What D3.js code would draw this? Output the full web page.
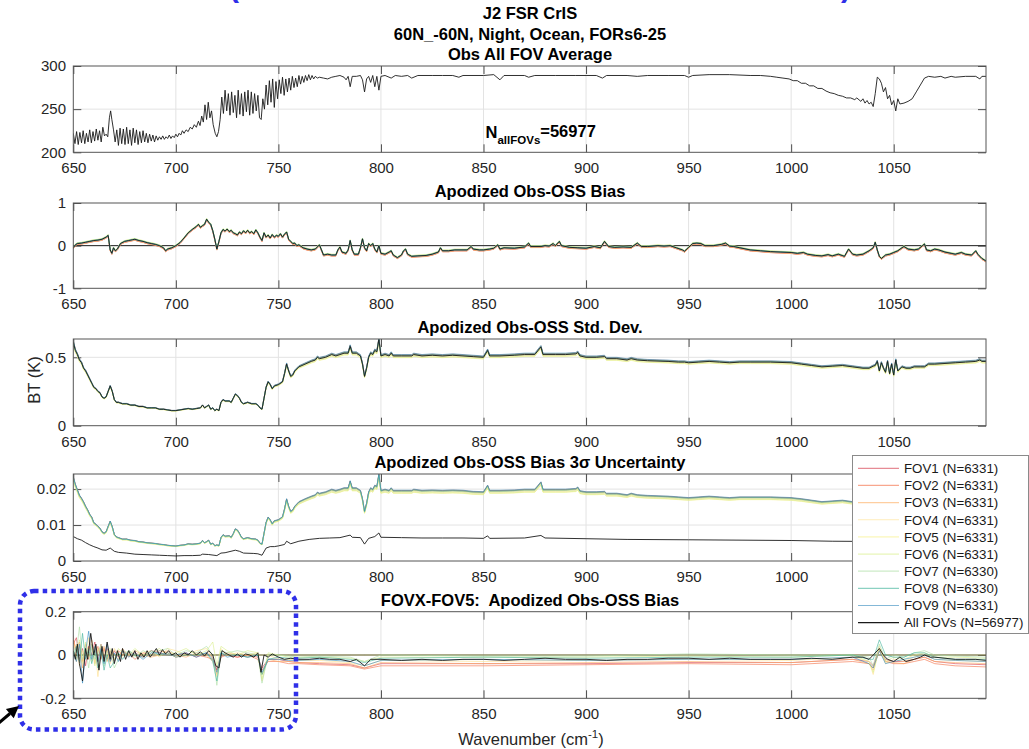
<!DOCTYPE html>
<html>
<head>
<meta charset="utf-8">
<script src="https://cdn.jsdelivr.net/npm/d3@7"></script>
<style>
  body { margin: 0; background: #fff; }
  svg { font-family: "Liberation Sans", Arial, Helvetica, sans-serif; }
  .tick text { font-size: 15px; fill: #262626; }
  .title { font-size: 16.5px; font-weight: bold; text-anchor: middle; fill: #000; white-space: pre; }
</style>
</head>
<body>
<svg id="chart" width="1029" height="749"></svg>
<script>

// ---- data ----
var xTicks = [650, 700, 750, 800, 850, 900, 950, 1000, 1050];

var fovNames = ["FOV1", "FOV2", "FOV3", "FOV4", "FOV5", "FOV6", "FOV7", "FOV8", "FOV9"];
var fovCounts = [6331, 6331, 6331, 6331, 6331, 6331, 6330, 6330, 6331];
var allCount = 56977;

// Obs all FOV average brightness temperature (K)
var obsBT = [
  [650,222],[650.8,210],[651.6,224],[652.4,209],[653.2,223],[654,211],[654.8,225],[655.6,210],[656.4,222],[657.2,212],
  [658,226],[658.8,211],[659.6,224],[660.4,213],[661.2,227],[662,214],[662.8,225],[663.6,212],[664.4,229],[665.2,219],
  [666,221],[666.8,218],[667.6,240],[668.2,248],[668.8,238],[669.6,226],[670.4,212],[671.2,226],[672,208],[672.8,228],
  [673.6,210],[674.4,227],[675.2,209],[676,229],[676.8,210],[677.6,226],[678.4,208],[679.2,228],[680,211],[680.8,226],
  [681.6,209],[682.4,224],[683.2,211],[684,225],[684.8,212],[685.6,222],[686.4,211],[687.2,221],[688,213],[688.8,220],
  [689.6,212],[690.4,219],[691.2,214],[692,218],[692.8,215],[693.6,219],[694.4,215],[695.2,218],[696,216],[696.8,220],
  [697.6,216],[698.4,219],[699.2,217],[700,221],[700.8,218],[701.6,222],[702.4,220],[703.2,225],[704,222],[705,226],
  [706,224],[707,229],[708,227],[709,232],[710,229],[711,236],[711.8,231],[712.6,242],[713.4,235],[714.2,255],
  [715,238],[715.8,258],[716.6,240],[717.4,248],[718.2,232],[719.2,222],[720,218],[720.8,224],[721.6,238],[722.4,264],
  [723.2,245],[724,272],[724.8,248],[725.6,268],[726.4,243],[727.2,270],[728,246],[728.8,266],[729.6,240],[730.4,272],
  [731.2,244],[732,268],[732.8,242],[733.6,270],[734.4,247],[735.2,272],[736,243],[736.8,270],[737.6,245],[738.4,268],
  [739.2,248],[740,266],[740.8,240],[741.6,238],[742.4,262],[743.2,250],[744,278],[744.8,255],[745.6,283],[746.4,258],
  [747.2,285],[748,252],[748.8,282],[749.6,262],[750.4,284],[751.2,268],[752,287],[752.8,266],[753.6,285],[754.4,270],
  [755.2,286],[756,272],[756.8,288],[757.6,275],[758.4,286],[759.2,276],[760,289],[760.8,279],[761.6,288],[762.4,281],
  [763.2,289],[764,283],[764.8,290],[765.6,284],[766.4,289],[767.2,285],[768,288],[769,286],[770,287],[772,286],
  [774,285],[776,287],[778,288],[780,289],[782,287],[783,284],[784,288],[785,276],[786,288],[788,288],
  [790,289],[791,284],[792,270],[793,285],[794,288],[795,281],[796,289],[797,276],[798,288],[799,272],
  [800,288],[802,289],[805,286],[807,289],[810,288],[813,289],[815,286],[818,289],[825,289],[830,289],
  [835,289],[838,287],[840,289],[850,289],[855,290],[858,284],[860,289],[870,289],[872,287],[875,289],
  [885,289],[895,289],[900,289],[905,289],[908,286],[910,289],[920,289],[925,288],[930,289],[940,289],
  [948,289],[950,287],[952,289],[960,290],[970,290],[980,289],[985,289],[990,288],[993,287],[996,286],
  [999,285],[1001,283],[1003,283],[1005,280],[1007,280],[1009,277],[1011,277],[1013,274],[1015,274],[1017,271],
  [1019,269],[1021,268],[1023,266],[1025,265],[1027,263],[1029,263],[1031,261],[1032,263],[1034,259],[1035,262],
  [1036,257],[1037,260],[1038,256],[1039,258],[1040,253],[1041,268],[1042,287],[1043,285],[1044,280],[1045,270],
  [1046,275],[1047,262],[1048,266],[1049,255],[1050,260],[1051,248],[1052,262],[1053,256],[1055,257],[1057,259],
  [1059,262],[1061,270],[1063,278],[1065,286],[1067,288],[1070,287],[1073,288],[1075,286],[1078,288],[1080,287],
  [1085,288],[1090,288],[1092,285],[1093,288],[1095,288]
];

// Apodized Obs-OSS bias, all FOVs (K)
var biasAll = [
  [650,-0.05],[651,0.02],[652,0.05],[654,0.06],[656,0.08],[658,0.1],[660,0.12],[662,0.13],[664,0.15],[666,0.2],
  [667,0.24],[668,-0.1],[668.8,-0.18],[669.6,-0.05],[670.5,-0.12],[671.5,-0.08],[673,0.05],[675,0.1],[677,0.12],[679,0.14],
  [680,0.15],[682,0.12],[684,0.1],[686,0.07],[688,0.05],[690,0.03],[692,0.0],[694,-0.05],[695,-0.12],[696,-0.08],
  [698,-0.05],[700,0.0],[702,0.07],[704,0.18],[706,0.3],[708,0.38],[710,0.45],[711,0.5],[712,0.43],[713,0.47],
  [714,0.5],[715,0.62],[716,0.55],[717,0.5],[718,0.35],[719,0.15],[720,-0.08],[721,0.1],[722,0.3],[723,0.38],
  [724,0.34],[725,0.39],[726,0.33],[727,0.36],[728,0.3],[729,0.28],[730,0.25],[731,0.32],[732,0.28],[733,0.35],
  [734,0.3],[735,0.36],[736,0.3],[737,0.33],[738,0.28],[739,0.37],[740,0.3],[741,0.2],[742,0.12],[743,0.3],
  [744,0.2],[745,0.25],[746,0.18],[747,0.26],[748,0.2],[749,0.24],[750,0.22],[751,0.28],[752,0.2],[753,0.27],
  [754,0.32],[755,0.15],[756,0.1],[757,0.05],[758,0.06],[759,0.0],[760,0.02],[762,-0.05],[764,-0.08],[766,-0.1],
  [768,-0.08],[770,0.02],[771,-0.1],[772,-0.22],[774,-0.2],[776,-0.22],[778,-0.22],[779,-0.1],[780,-0.03],[781,-0.15],
  [783,-0.18],[784,-0.1],[785,0.12],[786,-0.1],[787,-0.2],[789,-0.2],[790,-0.05],[791,0.16],[792,-0.05],[793,-0.12],
  [794,0.05],[795,0.0],[796,0.05],[797,-0.08],[798,-0.15],[799,0.0],[800,-0.18],[802,-0.2],[804,-0.15],[805,-0.12],
  [806,-0.22],[808,-0.28],[810,-0.22],[811,-0.12],[812,-0.08],[813,-0.2],[815,-0.25],[818,-0.24],[822,-0.23],[825,-0.2],
  [828,-0.15],[829,-0.05],[830,-0.12],[833,-0.12],[836,-0.1],[840,-0.1],[842,-0.1],[844,-0.02],[845,-0.08],[848,-0.1],
  [850,-0.1],[853,-0.08],[855,-0.06],[857,0.02],[858,-0.08],[860,-0.05],[865,-0.06],[870,-0.03],[872,0.06],[873,-0.02],
  [878,-0.02],[880,0.0],[882,-0.01],[884,0.05],[885,0.0],[887,0.1],[888,0.0],[892,-0.04],[896,-0.05],[900,-0.06],
  [904,-0.02],[907,-0.05],[909,0.1],[911,-0.02],[914,-0.04],[918,-0.03],[922,-0.04],[925,0.06],[927,-0.02],[930,-0.02],
  [935,0.0],[938,-0.01],[941,0.0],[944,-0.05],[947,-0.1],[948,-0.13],[950,-0.04],[952,0.05],[954,0.06],[956,0.05],
  [958,0.0],[962,0.0],[966,0.03],[968,0.06],[970,-0.01],[972,-0.02],[975,-0.05],[978,-0.08],[980,-0.1],[985,-0.12],
  [990,-0.14],[995,-0.15],[1000,-0.16],[1003,-0.18],[1006,-0.16],[1008,-0.2],[1012,-0.23],[1015,-0.24],[1018,-0.21],[1020,-0.24],
  [1023,-0.2],[1026,-0.25],[1028,-0.08],[1030,-0.2],[1032,-0.22],[1035,-0.2],[1038,-0.12],[1040,-0.05],[1041,0.08],[1042,-0.1],
  [1043,-0.25],[1044,-0.3],[1046,-0.22],[1048,-0.2],[1050,-0.16],[1052,-0.12],[1054,-0.05],[1055,-0.02],[1057,-0.08],[1060,-0.1],
  [1062,-0.08],[1064,0.0],[1065,0.04],[1066,-0.1],[1068,-0.12],[1070,-0.08],[1072,-0.1],[1075,-0.15],[1078,-0.18],[1080,-0.2],
  [1083,-0.16],[1085,-0.2],[1088,-0.22],[1090,-0.12],[1091,-0.2],[1093,-0.3],[1095,-0.36]
];
var fovBiasShift = [-0.02, -0.025, -0.02, -0.01, 0.02, 0.01, 0.015, 0.005, -0.005];

// Apodized Obs-OSS standard deviation, all FOVs (K)
var stdAll = [
  [650,0.61],[651,0.55],[652,0.52],[653,0.48],[654,0.46],[655,0.42],[656,0.4],[657,0.37],[658,0.34],[659,0.31],
  [660,0.28],[661,0.27],[662,0.25],[663,0.24],[664,0.21],[665,0.2],[666,0.21],[667,0.25],[668,0.29],[669,0.25],
  [670,0.19],[671,0.17],[672,0.17],[674,0.16],[676,0.16],[678,0.15],[680,0.15],[682,0.14],[684,0.14],[686,0.13],
  [688,0.13],[690,0.13],[692,0.12],[694,0.12],[696,0.115],[698,0.11],[700,0.11],[702,0.115],[704,0.12],[706,0.125],
  [708,0.12],[710,0.125],[712,0.13],[713,0.15],[714,0.13],[715,0.14],[716,0.15],[717,0.12],[718,0.13],[719,0.11],
  [720,0.12],[721,0.11],[722,0.17],[723,0.19],[724,0.18],[726,0.18],[727,0.17],[728,0.2],[729,0.23],[730,0.22],
  [731,0.2],[732,0.17],[733,0.16],[735,0.17],[737,0.16],[739,0.16],[740,0.15],[741,0.13],[742,0.12],[743,0.2],
  [744,0.28],[745,0.32],[746,0.3],[747,0.27],[748,0.29],[750,0.3],[752,0.32],[753,0.38],[754,0.45],[755,0.4],
  [756,0.36],[757,0.37],[758,0.4],[760,0.43],[763,0.45],[766,0.47],[768,0.48],[769,0.5],[770,0.49],[773,0.5],
  [776,0.52],[778,0.51],[780,0.52],[782,0.53],[784,0.53],[785,0.58],[786,0.53],[788,0.53],[790,0.51],[791,0.45],
  [792,0.36],[793,0.42],[794,0.5],[795,0.53],[796,0.52],[797,0.55],[798,0.54],[799,0.63],[800,0.51],[802,0.52],
  [804,0.51],[805,0.53],[806,0.51],[810,0.51],[815,0.51],[816,0.52],[820,0.51],[825,0.515],[830,0.51],[835,0.515],
  [840,0.51],[845,0.505],[850,0.5],[852,0.55],[853,0.51],[858,0.51],[865,0.515],[870,0.52],[875,0.52],[878,0.575],
  [879,0.52],[885,0.52],[890,0.52],[895,0.525],[896,0.535],[897,0.51],[900,0.5],[905,0.5],[909,0.505],[910,0.49],
  [915,0.49],[920,0.48],[922,0.49],[925,0.48],[930,0.475],[940,0.47],[945,0.465],[948,0.465],[950,0.46],[955,0.465],
  [960,0.47],[965,0.465],[970,0.46],[975,0.465],[980,0.465],[990,0.465],[1000,0.46],[1005,0.45],[1010,0.44],[1015,0.43],
  [1020,0.435],[1025,0.44],[1030,0.43],[1035,0.42],[1038,0.42],[1040,0.435],[1041,0.44],[1042,0.47],[1043,0.4],[1044,0.46],
  [1045,0.42],[1046,0.39],[1047,0.47],[1048,0.38],[1049,0.45],[1050,0.37],[1051,0.48],[1052,0.4],[1054,0.43],[1056,0.42],
  [1058,0.42],[1060,0.43],[1063,0.43],[1065,0.43],[1067,0.45],[1070,0.45],[1075,0.455],[1080,0.46],[1085,0.465],[1090,0.47],
  [1092,0.48],[1093,0.47],[1095,0.47]
];
var fovStdRatio = [1.01, 1.015, 1.005, 0.99, 0.975, 0.98, 1.0, 1.01, 1.02];

// Bias 3-sigma uncertainty, single FOV (K)
var uncFov = [
  [650,0.023],[651,0.021],[652,0.0195],[653,0.018],[654,0.0172],[655,0.0162],[656,0.015],[657,0.014],[658,0.0128],[659,0.012],
  [660,0.0105],[661,0.0101],[662,0.0095],[663,0.009],[664,0.008],[665,0.0076],[666,0.008],[667,0.0095],[668,0.0109],[669,0.0094],
  [670,0.0073],[671,0.0066],[672,0.0064],[674,0.006],[676,0.006],[678,0.0057],[680,0.0056],[682,0.0053],[684,0.0052],[686,0.005],
  [688,0.0049],[690,0.0048],[692,0.0046],[694,0.0045],[696,0.0043],[698,0.0042],[700,0.0041],[702,0.0043],[704,0.0044],[706,0.0047],
  [708,0.0046],[710,0.0047],[712,0.0049],[713,0.0056],[714,0.005],[715,0.0053],[716,0.0057],[717,0.0046],[718,0.0049],[719,0.0042],
  [720,0.0044],[721,0.0042],[722,0.0064],[723,0.0072],[724,0.0068],[726,0.0069],[727,0.0065],[728,0.0075],[729,0.0088],[730,0.0085],
  [731,0.0076],[732,0.0065],[733,0.0061],[735,0.0064],[737,0.0061],[739,0.006],[740,0.0057],[741,0.0049],[742,0.0046],[743,0.0076],
  [744,0.0106],[745,0.012],[746,0.0113],[747,0.0102],[748,0.011],[750,0.0113],[752,0.0121],[753,0.0143],[754,0.017],[755,0.015],
  [756,0.0136],[757,0.014],[758,0.015],[760,0.0162],[763,0.017],[766,0.0177],[768,0.0181],[769,0.0188],[770,0.0185],[773,0.0189],
  [776,0.0196],[778,0.0193],[780,0.0196],[782,0.02],[784,0.02],[785,0.0219],[786,0.02],[788,0.02],[790,0.0193],[791,0.017],
  [792,0.0136],[793,0.0158],[794,0.0189],[795,0.02],[796,0.0196],[797,0.0207],[798,0.0204],[799,0.0238],[800,0.0193],[802,0.0196],
  [804,0.0193],[805,0.02],[806,0.0193],[810,0.0193],[815,0.0193],[816,0.0196],[820,0.0193],[825,0.0194],[830,0.0193],[835,0.0194],
  [840,0.0193],[845,0.019],[850,0.0189],[852,0.0207],[853,0.0193],[858,0.0193],[865,0.0194],[870,0.0196],[875,0.0196],[878,0.0216],
  [879,0.0196],[885,0.0196],[890,0.0196],[895,0.0198],[896,0.0202],[897,0.0192],[900,0.0189],[905,0.0189],[909,0.019],[910,0.0185],
  [915,0.0185],[920,0.0181],[922,0.0185],[925,0.0181],[930,0.0179],[940,0.0177],[945,0.0175],[950,0.0173],[955,0.0175],[960,0.0177],
  [965,0.0175],[970,0.0173],[975,0.0175],[980,0.0175],[990,0.0175],[1000,0.0173],[1005,0.017],[1010,0.0166],[1015,0.0162],[1020,0.0164],
  [1025,0.0166],[1030,0.0162],[1035,0.0158],[1040,0.0164],[1050,0.016],[1060,0.0163],[1070,0.017],[1080,0.0172],[1095,0.0176]
];
// Bias 3-sigma uncertainty, all FOVs (K)
var uncAll = [
  [650,0.0068],[652,0.0062],[654,0.0058],[656,0.0051],[658,0.0045],[660,0.004],[662,0.0036],[664,0.0031],[666,0.003],[668,0.0036],
  [670,0.0027],[672,0.0024],[676,0.0022],[680,0.0019],[684,0.0018],[688,0.0017],[692,0.0016],[696,0.0015],[700,0.0014],[704,0.0015],
  [708,0.0015],[712,0.0016],[713,0.0019],[716,0.0018],[720,0.0015],[722,0.0022],[724,0.0023],[729,0.0030],[731,0.0027],[733,0.0022],
  [738,0.0021],[740,0.002],[742,0.0016],[744,0.0036],[746,0.0040],[748,0.0040],[750,0.0042],[753,0.0046],[754,0.0055],[756,0.0048],
  [760,0.0055],[765,0.006],[770,0.0063],[775,0.0064],[780,0.0065],[785,0.0072],[786,0.0066],[790,0.0065],[792,0.0047],[794,0.0063],
  [797,0.0068],[799,0.0078],[800,0.0066],[810,0.0065],[820,0.0064],[830,0.0064],[840,0.0064],[850,0.0063],[852,0.007],[853,0.0063],
  [870,0.0064],[878,0.0071],[880,0.0064],[900,0.0062],[920,0.006],[950,0.0059],[1000,0.0057],[1020,0.0055],[1050,0.0054],[1095,0.0058]
];

// FOVX - FOV5 bias, all FOVs (K)
var diffAll = [
  [650,0.02],[651,-0.02],[652,0.05],[653,-0.04],[654.5,-0.12],[656,0.03],[657,-0.02],[658.5,0.10],[660,0.0],[661,0.05],
  [662.5,-0.07],[664,0.04],[665,-0.03],[666.5,0.06],[668,-0.02],[669,0.03],[670,-0.04],[671.5,0.02],[673,-0.03],[674,0.03],
  [675.5,-0.02],[677,0.02],[678.5,-0.01],[680,0.02],[681.5,-0.02],[683,0.01],[684.5,-0.01],[686,0.02],[687.5,-0.01],[689,0.01],
  [690.5,0.03],[692,0.0],[693.5,0.025],[695,0.005],[696.5,0.02],[698,0.0],[700,0.01],[702,-0.01],[704,0.01],[706,0.0],
  [708,0.02],[710,0.0],[712,0.015],[714,-0.005],[716,0.02],[718,0.0],[719.5,-0.05],[721,-0.06],[722.5,0.02],[724,0.01],
  [726,0.0],[728,-0.01],[730,0.005],[732,-0.01],[734,0.005],[736,0.0],[738,-0.01],[740,0.01],[741.5,-0.08],[743,0.0],
  [745,-0.01],[747,0.005],[750,-0.01],[753,-0.02],[756,-0.015],[760,-0.02],[765,-0.02],[770,-0.015],[775,-0.02],[780,-0.02],
  [785,-0.03],[788,-0.02],[792,-0.05],[795,-0.02],[800,-0.02],[810,-0.025],[820,-0.02],[830,-0.025],[840,-0.02],[850,-0.02],
  [860,-0.025],[870,-0.02],[880,-0.015],[890,-0.02],[900,-0.02],[910,-0.025],[920,-0.02],[930,-0.02],[940,-0.015],[950,-0.015],
  [960,-0.02],[970,-0.015],[980,-0.02],[990,-0.02],[1000,-0.02],[1010,-0.015],[1020,-0.02],[1030,-0.01],[1035,-0.01],[1038,-0.02],
  [1040,0.0],[1043,0.03],[1045,0.0],[1047,-0.02],[1050,-0.03],[1053,-0.01],[1056,-0.03],[1060,-0.02],[1063,-0.01],[1065,0.0],
  [1068,-0.01],[1070,-0.01],[1075,-0.015],[1080,-0.02],[1085,-0.02],[1090,-0.02],[1095,-0.025]
];

// FOVX - FOV5 bias per FOV, on a coarse wavenumber grid
var diffWn = [650,651.5,653,654.5,656,657.5,659,660.5,662,663.5,
  665,666.5,668,670,672,674,677,680,684,688,
  692,696,700,705,710,715,718,720,722,725,
  730,735,740,742,745,750,755,760,770,785,
  792,800,850,900,950,1000,1030,1038,1040,1043,
  1046,1050,1055,1060,1065,1070,1080,1095];
var diffFov1 = [0.05,0.08,-0.02,0.03,-0.05,0.04,0.0,0.06,-0.03,0.05,
  -0.02,0.03,-0.03,0.02,-0.01,0.02,0.0,0.01,-0.01,0.02,
  0.01,0.0,0.0,0.01,-0.01,0.01,-0.01,-0.07,0.0,0.0,
  -0.01,0.0,-0.01,-0.06,-0.02,-0.02,-0.03,-0.035,-0.04,-0.045,
  -0.06,-0.04,-0.04,-0.04,-0.035,-0.035,-0.02,-0.03,-0.05,0.03,
  -0.02,-0.03,-0.03,-0.02,-0.01,-0.03,-0.04,-0.045];
var diffFov2 = [0.07,0.02,0.06,-0.03,0.02,-0.02,0.05,0.01,0.04,-0.02,
  0.03,-0.02,0.02,-0.03,0.02,0.0,0.01,-0.02,0.01,0.0,
  0.02,0.01,-0.01,0.0,0.0,-0.01,-0.02,-0.07,-0.01,0.0,
  -0.01,0.0,-0.02,-0.07,-0.03,-0.03,-0.04,-0.04,-0.045,-0.05,
  -0.065,-0.05,-0.05,-0.045,-0.04,-0.045,-0.03,-0.04,-0.06,0.02,
  -0.03,-0.04,-0.04,-0.03,-0.02,-0.04,-0.05,-0.055];
var diffFov3 = [0.09,-0.03,0.04,-0.06,0.05,0.02,0.07,-0.04,0.03,-0.01,
  0.04,-0.03,0.01,0.0,-0.02,0.03,-0.01,0.02,0.0,-0.01,
  0.0,0.02,0.0,-0.01,0.01,0.0,-0.03,-0.09,0.0,0.01,
  0.0,-0.01,0.0,-0.09,-0.02,-0.03,-0.03,-0.035,-0.035,-0.04,
  -0.06,-0.035,-0.04,-0.035,-0.03,-0.035,-0.02,-0.04,-0.07,0.03,
  -0.03,-0.035,-0.04,-0.02,-0.01,-0.03,-0.035,-0.04];
var diffFov4 = [0.03,0.05,-0.05,0.02,0.0,0.08,-0.03,0.04,-0.1,0.03,
  0.0,0.02,-0.04,0.03,0.0,-0.01,0.02,0.0,0.01,0.02,
  -0.01,0.03,0.02,0.0,0.02,0.03,-0.02,-0.1,0.03,0.0,
  0.01,0.0,0.01,-0.12,0.0,-0.02,-0.02,-0.025,-0.025,-0.035,
  -0.05,-0.025,-0.03,-0.025,-0.02,-0.025,-0.01,-0.03,-0.09,0.04,
  -0.04,-0.02,-0.03,-0.01,0.0,-0.02,-0.025,-0.03];
var diffFov5 = diffWn.map(function() { return 0; }); // FOV5 - FOV5
var diffFov6 = [0.02,-0.02,0.07,-0.04,0.06,-0.01,0.03,-0.05,0.02,0.04,
  -0.03,0.02,0.03,-0.02,0.03,0.01,0.0,0.03,0.0,0.01,
  0.03,0.0,0.01,0.03,0.0,0.02,0.06,-0.05,0.04,0.02,
  0.0,0.02,0.01,-0.11,0.01,0.0,-0.01,-0.01,-0.01,-0.015,
  -0.03,-0.01,-0.01,-0.01,-0.005,-0.01,0.0,-0.03,-0.08,0.03,
  -0.03,-0.01,-0.02,0.0,0.01,-0.01,-0.01,-0.015];
var diffFov7 = [0.04,0.01,0.13,-0.02,0.03,-0.06,0.05,-0.02,0.0,0.05,
  -0.05,0.01,0.02,-0.06,-0.02,0.02,0.01,-0.01,0.02,0.0,
  0.02,0.03,0.0,0.02,0.01,0.04,0.0,-0.14,0.02,0.01,
  0.02,0.01,0.0,-0.13,0.0,0.0,-0.005,-0.01,-0.005,-0.01,
  -0.03,0.0,-0.005,-0.005,0.005,0.0,0.0,-0.01,-0.05,0.05,
  -0.02,0.0,-0.01,0.01,0.02,0.0,-0.005,-0.01];
var diffFov8 = [-0.01,0.04,-0.03,0.1,-0.02,0.03,-0.04,0.02,-0.06,0.02,
  -0.07,0.0,-0.06,-0.03,0.01,-0.02,0.02,0.0,-0.01,0.02,
  0.0,0.01,-0.01,0.0,0.0,0.01,-0.03,-0.12,0.01,0.0,
  0.0,-0.01,0.0,-0.09,-0.02,-0.01,-0.015,-0.015,-0.01,-0.02,
  -0.035,-0.015,-0.01,-0.015,-0.01,-0.01,0.0,-0.02,-0.02,0.07,
  0.0,-0.01,-0.01,0.01,0.01,-0.01,-0.02,-0.02];
var diffFov9 = [0.01,-0.03,0.05,-0.13,0.02,0.11,-0.02,0.04,-0.03,0.03,
  -0.04,0.05,-0.03,0.01,-0.03,0.02,-0.01,0.01,-0.02,0.01,
  0.01,0.0,0.0,0.01,-0.01,0.01,-0.02,-0.08,0.01,-0.01,
  0.0,-0.01,0.0,-0.08,-0.02,-0.02,-0.025,-0.025,-0.02,-0.03,
  -0.05,-0.025,-0.02,-0.025,-0.02,-0.02,-0.01,-0.04,-0.06,0.02,
  -0.04,-0.03,-0.02,-0.01,0.0,-0.02,-0.025,-0.03];
var diffFov = [diffFov1, diffFov2, diffFov3, diffFov4, diffFov5, diffFov6, diffFov7, diffFov8, diffFov9];

// ---- styling ----
var fovColors = ["#d53e4f", "#f46d43", "#fdae61", "#fee08b", "#f6f08a", "#d9ef8b", "#abdda4", "#3fb39a", "#3288bd"];
var fovOpacity = 0.6;
var allColor = "#1a1a1a";

var svg = d3.select("#chart");
var x = d3.scaleLinear().domain([650, 1095]).range([73.3, 986]);
var line = function(y) {
  return d3.line().x(function(d) { return x(d[0]); }).y(function(d) { return y(d[1]); });
};

/**
 * Draws one MATLAB style axes box with grid and inside ticks, returns its y scale.
 */
function drawPanel(p, idx) {
  var y = d3.scaleLinear().domain(p.domain).range([p.bottom, p.top]);
  var g = svg.append("g");

  // grid
  g.selectAll(".gx").data(xTicks.slice(1)).enter().append("line")
    .attr("x1", function(d) { return x(d); }).attr("x2", function(d) { return x(d); })
    .attr("y1", p.top).attr("y2", p.bottom)
    .attr("stroke", "#e3e3e3").attr("stroke-width", 1);
  g.selectAll(".gy").data(p.ticks.filter(function(t) { return t !== p.domain[0] && t < p.domain[1]; }))
    .enter().append("line")
    .attr("x1", x.range()[0]).attr("x2", x.range()[1])
    .attr("y1", function(d) { return y(d); }).attr("y2", function(d) { return y(d); })
    .attr("stroke", "#e3e3e3").attr("stroke-width", 1);

  // x labels hidden under the legend are left out
  var xFmt = function(d) { return (p.hideX || []).indexOf(d) >= 0 ? "" : String(d); };

  // axes with inside ticks
  var ax = [
    [d3.axisBottom(x).tickValues(xTicks).tickSize(-8).tickPadding(10.3).tickSizeOuter(0).tickFormat(xFmt), "translate(0," + p.bottom + ")"],
    [d3.axisTop(x).tickValues(xTicks).tickSize(-8).tickFormat("").tickSizeOuter(0), "translate(0," + p.top + ")"],
    [d3.axisLeft(y).tickValues(p.ticks).tickSize(-8).tickPadding(7.3).tickSizeOuter(0).tickFormat(String), "translate(" + x.range()[0] + ",0)"],
    [d3.axisRight(y).tickValues(p.ticks).tickSize(-8).tickFormat("").tickSizeOuter(0), "translate(" + x.range()[1] + ",0)"]
  ];
  ax.forEach(function(a) {
    var ag = g.append("g").attr("transform", a[1]).call(a[0]);
    ag.select(".domain").remove();
    ag.selectAll(".tick line").attr("stroke", "#4d4d4d");
    ag.selectAll(".tick text").filter(function() { return this.textContent === ""; }).remove();
  });

  // title
  svg.append("text").attr("class", "title")
    .attr("x", 530).attr("y", p.top - 6).text(p.title);

  // clip for curves
  svg.append("clipPath").attr("id", "clip" + idx).append("rect")
    .attr("x", x.range()[0]).attr("y", p.top)
    .attr("width", x.range()[1] - x.range()[0]).attr("height", p.bottom - p.top);
  p.plot = svg.append("g").attr("clip-path", "url(#clip" + idx + ")");
  p.y = y;
  p.g = g;
  return p;
}

function drawBox(p) {
  svg.append("rect")
    .attr("x", x.range()[0]).attr("y", p.top)
    .attr("width", x.range()[1] - x.range()[0]).attr("height", p.bottom - p.top)
    .attr("fill", "none").attr("stroke", "#555").attr("stroke-width", 1);
}

function drawCurve(p, data, color, opacity, width) {
  p.plot.append("path").datum(data)
    .attr("d", line(p.y))
    .attr("fill", "none")
    .attr("stroke", color)
    .attr("stroke-opacity", opacity)
    .attr("stroke-width", width)
    .attr("stroke-linejoin", "round");
}

function zeroLine(p) {
  p.plot.append("line")
    .attr("x1", x.range()[0]).attr("x2", x.range()[1])
    .attr("y1", p.y(0)).attr("y2", p.y(0))
    .attr("stroke", "#222").attr("stroke-width", 1);
}

var panels = [
  {top: 66, bottom: 152.3, domain: [200, 300], ticks: [200, 250, 300], title: "Obs All FOV Average"},
  {top: 203, bottom: 288.3, domain: [-1, 1], ticks: [-1, 0, 1], title: "Apodized Obs-OSS Bias"},
  {top: 339, bottom: 425.7, domain: [0, 0.634], ticks: [0, 0.5], title: "Apodized Obs-OSS Std. Dev."},
  {top: 474, bottom: 561, domain: [0, 0.0242], ticks: [0, 0.01, 0.02], title: "Apodized Obs-OSS Bias 3\u03C3 Uncertainty", hideX: [1050]},
  {top: 611.7, bottom: 698.3, domain: [-0.2, 0.2], ticks: [-0.2, 0, 0.2], title: "FOVX-FOV5:  Apodized Obs-OSS Bias"}
];
panels.forEach(drawPanel);

// panel 1
drawCurve(panels[0], obsBT, allColor, 1, 0.9);

// panel 2
zeroLine(panels[1]);
fovNames.forEach(function(n, k) {
  drawCurve(panels[1], biasAll.map(function(d) { return [d[0], d[1] + fovBiasShift[k]]; }), fovColors[k], fovOpacity, 1);
});
drawCurve(panels[1], biasAll, allColor, 1, 0.9);

// panel 3
fovNames.forEach(function(n, k) {
  drawCurve(panels[2], stdAll.map(function(d) { return [d[0], d[1] * fovStdRatio[k]]; }), fovColors[k], fovOpacity, 1);
});
drawCurve(panels[2], stdAll, allColor, 1, 0.9);

// panel 4
fovNames.forEach(function(n, k) {
  drawCurve(panels[3], uncFov.map(function(d) { return [d[0], d[1] * fovStdRatio[k]]; }), fovColors[k], fovOpacity, 1);
});
drawCurve(panels[3], uncAll, allColor, 1, 0.9);

// panel 5
zeroLine(panels[4]);
fovNames.forEach(function(n, k) {
  drawCurve(panels[4], diffWn.map(function(w, i) { return [w, diffFov[k][i]]; }), fovColors[k], fovOpacity, 1);
});
drawCurve(panels[4], diffAll, allColor, 1, 0.9);

panels.forEach(drawBox);

// top titles
svg.append("text").attr("class", "title").attr("x", 530).attr("y", 19).text("J2 FSR CrIS");
svg.append("text").attr("class", "title").attr("x", 530).attr("y", 39.5).text("60N_-60N, Night, Ocean, FORs6-25");
// cut-off blue parentheses of the slide heading above the figure
svg.append("text").attr("x", 234).attr("y", -3).attr("font-size", 30).attr("font-weight", "bold")
  .attr("fill", "#2f2fe8").attr("text-anchor", "middle").text("(");
svg.append("text").attr("x", 846).attr("y", -3).attr("font-size", 30).attr("font-weight", "bold")
  .attr("fill", "#2f2fe8").attr("text-anchor", "middle").text(")");

// N annotation
var nt = svg.append("text").attr("x", x(851)).attr("y", 138)
  .attr("font-weight", "bold").attr("font-size", 16.5).attr("fill", "#000");
nt.append("tspan").text("N");
nt.append("tspan").attr("font-size", 11.5).attr("dy", 6).text("allFOVs");
nt.append("tspan").attr("dy", -7.5).text("=" + allCount);

// y label
svg.append("text").attr("transform", "translate(40,380) rotate(-90)")
  .attr("text-anchor", "middle").attr("font-size", 16.5).attr("fill", "#262626").text("BT (K)");

// x label
var xl = svg.append("text").attr("x", 531).attr("y", 744.5).attr("text-anchor", "middle")
  .attr("font-size", 16.5).attr("fill", "#262626");
xl.append("tspan").text("Wavenumber (cm");
xl.append("tspan").attr("font-size", 11.5).attr("dy", -7).text("-1");
xl.append("tspan").attr("dy", 7).text(")");

// legend
var lg = svg.append("g");
lg.append("rect").attr("x", 852.5).attr("y", 455.5).attr("width", 176).attr("height", 178)
  .attr("fill", "#fff").attr("stroke", "#8a8a8a").attr("stroke-width", 1);
var legendItems = fovNames.map(function(n, k) {
  return {label: n + " (N=" + fovCounts[k] + ")", color: fovColors[k], opacity: fovOpacity};
}).concat([{label: "All FOVs (N=" + allCount + ")", color: allColor, opacity: 1}]);
var li = lg.selectAll(".li").data(legendItems).enter().append("g")
  .attr("transform", function(d, i) { return "translate(0," + (468.3 + i * 17.15) + ")"; });
li.append("line").attr("x1", 858).attr("x2", 899).attr("y1", 0).attr("y2", 0)
  .attr("stroke", function(d) { return d.color; })
  .attr("stroke-opacity", function(d) { return d.opacity; }).attr("stroke-width", 1.2);
li.append("text").attr("x", 904).attr("y", 4.8).attr("font-size", 13.3).attr("fill", "#1a1a1a")
  .text(function(d) { return d.label; });

// blue dotted highlight box and arrow
svg.append("rect").attr("x", 20).attr("y", 591).attr("width", 276).attr("height", 138.5).attr("rx", 14)
  .attr("fill", "none").attr("stroke", "#2f2fe8").attr("stroke-width", 4.5).attr("stroke-dasharray", "4.5 4.2");
svg.append("line").attr("x1", -6).attr("y1", 727).attr("x2", 10).attr("y2", 713.5)
  .attr("stroke", "#000").attr("stroke-width", 3);
svg.append("path").attr("d", "M19,706 L13.7,718.3 L5.9,709.1 Z").attr("fill", "#000");

</script>
</body>
</html>
